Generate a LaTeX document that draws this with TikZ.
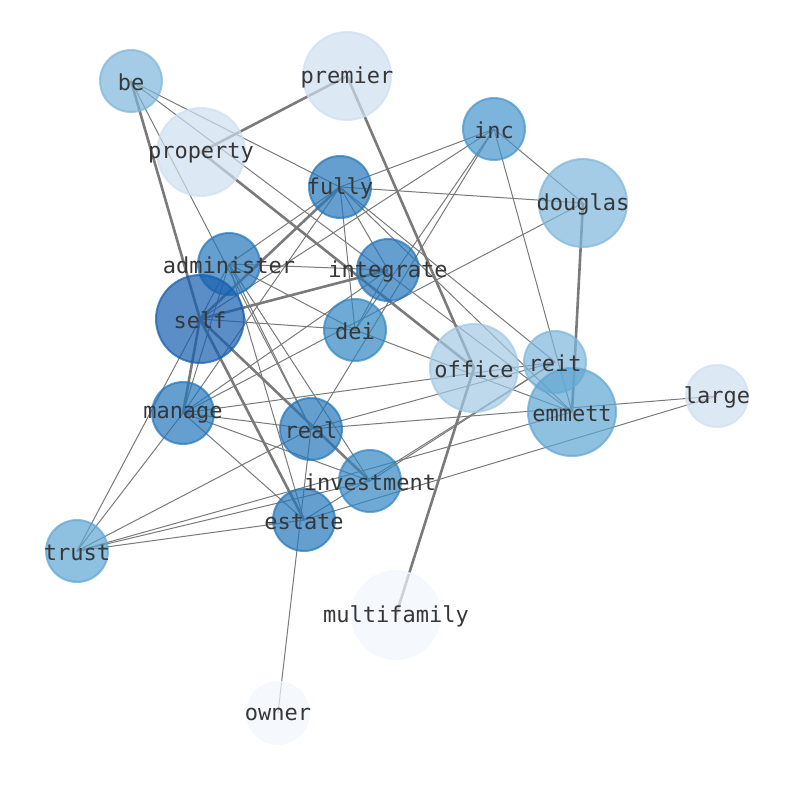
\documentclass[tikz,border=0pt]{standalone}
\usepackage{fontspec}
\newfontfamily\lblfont{DejaVu Sans Mono}
\pgfdeclarelayer{bg}
\pgfsetlayers{bg,main}
\definecolor{cSelf}{RGB}{21,94,174}
\definecolor{cDark}{RGB}{35,118,186}
\definecolor{cMid}{RGB}{49,134,194}
\definecolor{cInc}{RGB}{69,148,204}
\definecolor{cEm}{RGB}{94,165,211}
\definecolor{cBe}{RGB}{125,182,219}
\definecolor{cOff}{RGB}{162,201,228}
\definecolor{cPale}{RGB}{205,223,239}
\definecolor{cVpale}{RGB}{241,247,253}
\definecolor{edgegray}{RGB}{122,122,122}
\definecolor{txt}{RGB}{55,55,55}
\tikzset{
  nd/.style={circle, inner sep=0pt, line width=2pt, fill opacity=0.7, draw opacity=0.7, fill=#1, draw=#1},
  big/.style={minimum size=88pt},
  small/.style={minimum size=62pt},
  lbl/.style={inner sep=0pt, yshift=-1.5pt, text=txt, font=\lblfont\fontsize{22}{26}\selectfont},
  ed/.style={draw=edgegray, line width=1pt},
  edt/.style={draw=edgegray, line width=2.6pt}
}
\begin{document}
\begin{tikzpicture}[x=1pt,y=-1pt]
\useasboundingbox (0,0) rectangle (794,790);
% nodes
\node[nd=cBe,small] (be) at (131,81) {};
\node[nd=cPale,big] (premier) at (347,76) {};
\node[nd=cPale,big] (property) at (201,152) {};
\node[nd=cInc,small] (inc) at (494,129) {};
\node[nd=cDark,small] (fully) at (340,187) {};
\node[nd=cBe,big] (douglas) at (583,203) {};
\node[nd=cDark,small] (administer) at (229,264) {};
\node[nd=cDark,small] (integrate) at (388,270) {};
\node[nd=cSelf,big] (self) at (200,319) {};
\node[nd=cMid,small] (dei) at (355,330) {};
\node[nd=cOff,big] (office) at (474,368) {};
\node[nd=cBe,small] (reit) at (555,362) {};
\node[nd=cEm,big] (emmett) at (572,412) {};
\node[nd=cPale,small] (large) at (717,396) {};
\node[nd=cDark,small] (manage) at (183,413) {};
\node[nd=cDark,small] (real) at (311,429) {};
\node[nd=cMid,small] (investment) at (370,481) {};
\node[nd=cDark,small] (estate) at (304,520) {};
\node[nd=cEm,small] (trust) at (77,551) {};
\node[nd=cVpale,big] (multifamily) at (396,615) {};
\node[nd=cVpale,small] (owner) at (278,713) {};
% labels
\foreach \n in {be,premier,property,inc,fully,douglas,administer,integrate,self,dei,office,reit,emmett,large,manage,real,investment,estate,trust,multifamily,owner}
  \node[lbl] (\n-t) at (\n.center) {\n};
% edges
\begin{pgfonlayer}{bg}
\foreach \a/\b in {be/self,property/premier,property/office,premier/office,office/multifamily,douglas/emmett,fully/self,self/integrate,self/manage,self/estate,self/investment}
  \path[edt] (\a.center) -- (\b.center);
\foreach \a/\b in {be/real,be/fully,be/emmett,
  inc/fully,inc/douglas,inc/emmett,inc/dei,inc/real,inc/self,
  fully/douglas,fully/administer,fully/manage,fully/integrate,fully/dei,fully/emmett,fully/reit,
  administer/integrate,administer/self,administer/manage,administer/real,administer/estate,administer/investment,administer/dei,
  self/dei,integrate/dei,integrate/manage,dei/emmett,douglas/manage,
  manage/reit,manage/real,manage/investment,manage/estate,manage/trust,
  trust/self,trust/real,trust/investment,trust/estate,trust/emmett,
  real/reit,real/large,owner/real,estate/large,estate/reit,investment/reit}
  \path[ed] (\a.center) -- (\b.center);
\end{pgfonlayer}
\end{tikzpicture}
\end{document}
